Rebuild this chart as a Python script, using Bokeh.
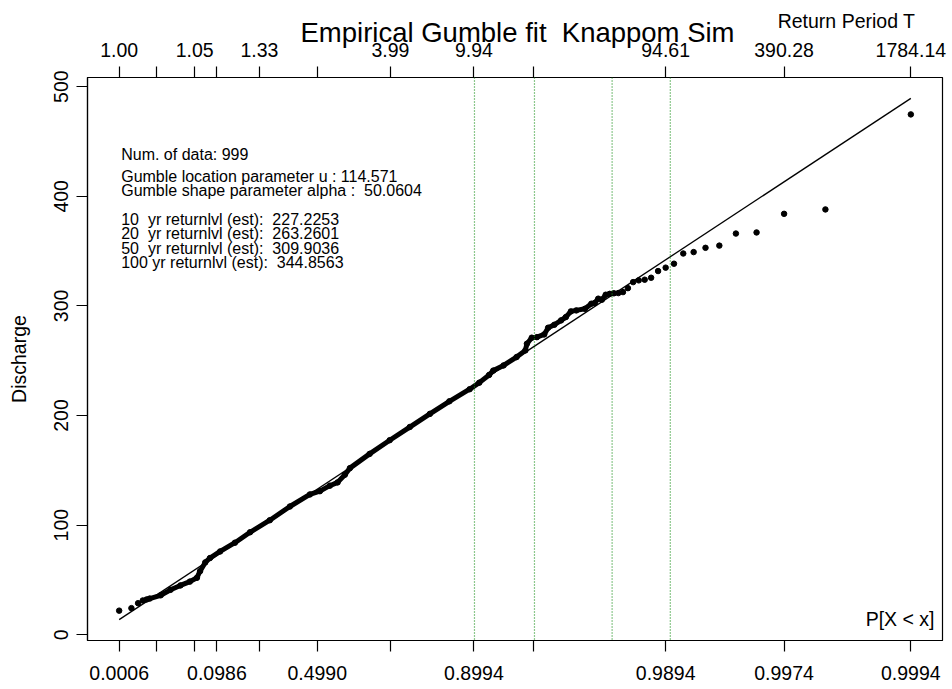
import numpy as np
from bokeh.plotting import figure
from bokeh.layouts import column
from bokeh.models import Range1d, LinearAxis, FixedTicker, CustomJSTickFormatter, Label, Span
from bokeh.embed import file_html
from bokeh.resources import INLINE

# ---------------- data ----------------
N_DATA = 999
U_LOC = 114.571
ALPHA = 50.0604

# ranks of the ordered sample and the discharge
ranks = [1, 2, 3, 4, 5, 6, 11, 18, 28, 41, 53, 59, 70, 81, 108, 155, 211, 293,
         381, 468, 510, 550, 580, 607, 625, 690, 747, 795, 835, 867, 894, 905,
         915, 919, 928, 938, 944, 945, 948, 951, 955, 957, 960, 963, 965, 967,
         969, 972, 974, 975, 976, 977, 978, 979, 980, 981, 982, 983, 984, 985,
         986, 987, 988, 989, 990, 991, 992, 993, 994, 995, 996, 997, 998, 999]
discharge = [22.0, 24.3, 28.8, 31.3, 32.2, 33.0, 36.0, 41.0, 45.0, 48.5, 52.0,
             58.0, 66.0, 70.0, 76.0, 84.0, 93.5, 104.5, 117.0, 128.0, 131.0,
             136.0, 139.0, 146.0, 152.0, 165.0, 177.5, 189.5, 201.5, 213.0,
             224.0, 230.0, 237.0, 241.0, 245.7, 253.3, 259.4, 265.5, 271.0,
             271.5, 274.0, 280.1, 282.8, 286.8, 289.8, 295.0, 295.9, 297.4,
             302.0, 302.6, 306.6, 305.7, 310.2, 311.0, 311.5, 311.7, 312.6,
             316.2, 321.7, 323.3, 323.9, 325.7, 331.8, 334.9, 338.5, 347.8,
             349.1, 353.0, 355.0, 366.0, 367.0, 384.0, 388.0, 474.7]

tick_ranks = [1, 9, 49, 99, 249, 499, 749, 899, 949, 989, 997, 999]
bottom_labels = ["0.0006", "", "", "0.0986", "", "0.4990", "", "0.8994", "",
                 "0.9894", "0.9974", "0.9994"]
top_labels = ["1.00", "", "1.05", "", "1.33", "", "3.99", "9.94", "",
              "94.61", "390.28", "1784.14"]
y_ticks = [0, 100, 200, 300, 400, 500]

return_periods = [10, 20, 50, 100]
return_levels = ["227.2253", "263.2601", "309.9036", "344.8563"]

TITLE = "Empirical Gumble fit \u00a0Knappom Sim"
FONT = "Liberation Sans"
SP2 = " \u00a0"   # a double space that survives svg whitespace collapsing


def reduced_variate(rank):
    pp = (np.asarray(rank, dtype=float) - 0.44) / (N_DATA + 0.12)  # Gringorten
    return -np.log(-np.log(pp))


x_pts = reduced_variate(ranks)
q_pts = np.array(discharge)
x_ticks = [float(v) for v in reduced_variate(tick_ranks)]
x_rp = -np.log(-np.log(1.0 - 1.0 / np.array(return_periods, dtype=float)))

x_fit = np.array([x_pts.min(), x_pts.max()])
q_fit = U_LOC + ALPHA * x_fit

xr = x_fit[1] - x_fit[0]
yr = q_fit[1] - q_fit[0]

# ---------------- title strip (overlaps the transparent top border below) ----
HEAD_H = 50
head = figure(width=950, height=HEAD_H, output_backend="svg", toolbar_location=None,
              x_axis_location=None, y_axis_location=None,
              min_border_left=87, min_border_right=8, min_border_top=0,
              min_border_bottom=0, outline_line_color=None,
              x_range=Range1d(0, 1), y_range=Range1d(0, 1),
              margin=(0, 0, -18, 0))
head.xgrid.visible = False
head.ygrid.visible = False
head.add_layout(Label(x=430, y=HEAD_H - 41 + 9.4, x_units="screen", y_units="screen",
                      text=TITLE, text_font=FONT, text_font_size="27.5px",
                      text_align="center", text_baseline="alphabetic",
                      text_color="black"))
head.add_layout(Label(x=759, y=HEAD_H - 27 + 6.6, x_units="screen", y_units="screen",
                      text="Return Period T", text_font=FONT,
                      text_font_size="19.5px", text_align="center",
                      text_baseline="alphabetic", text_color="black"))

# ---------------- main plot ----------------
p = figure(width=950, height=656, output_backend="svg", toolbar_location=None,
           x_range=Range1d(x_fit[0] - 0.04 * xr, x_fit[1] + 0.04 * xr),
           y_range=Range1d(q_fit[0] - 0.04 * yr, q_fit[1] + 0.04 * yr),
           min_border_left=87, min_border_right=8, min_border_top=45,
           min_border_bottom=48)
p.xgrid.visible = False
p.ygrid.visible = False
p.outline_line_color = "black"
p.outline_line_width = 1.2
p.background_fill_color = "white"
p.border_fill_color = None

fmt_code = """
for (let i = 0; i < tvals.length; i++) {
  if (Math.abs(tick - tvals[i]) < 1e-6) { return tlabels[i]; }
}
return "";
"""


def style_axis(ax):
    ax.major_tick_out = 11
    ax.major_tick_in = 0
    ax.minor_tick_line_color = None
    ax.major_tick_line_width = 1.2
    ax.axis_line_width = 1.2
    ax.axis_line_color = "black"
    ax.major_tick_line_color = "black"
    ax.major_label_text_font = FONT
    ax.major_label_text_font_size = "19.5px"
    ax.major_label_text_color = "black"


bottom = p.xaxis[0]
bottom.ticker = FixedTicker(ticks=x_ticks)
bottom.formatter = CustomJSTickFormatter(
    args=dict(tvals=x_ticks, tlabels=bottom_labels), code=fmt_code)
style_axis(bottom)
bottom.major_label_standoff = 14

top = LinearAxis(ticker=FixedTicker(ticks=x_ticks),
                 formatter=CustomJSTickFormatter(
                     args=dict(tvals=x_ticks, tlabels=top_labels), code=fmt_code))
style_axis(top)
top.major_label_standoff = 10
p.add_layout(top, "above")

left = p.yaxis[0]
left.ticker = FixedTicker(ticks=y_ticks)
style_axis(left)
left.major_label_orientation = "vertical"
left.major_label_standoff = 8
left.axis_label = "Discharge"
left.axis_label_text_font = FONT
left.axis_label_text_font_size = "19.5px"
left.axis_label_text_font_style = "normal"
left.axis_label_text_color = "black"
left.axis_label_standoff = 22

# return period verticals
for xv in x_rp:
    p.add_layout(Span(location=float(xv), dimension="height", line_color="#1a901a",
                      line_dash="1 2", line_width=1.2))

# fitted Gumbel line
p.line(x_fit, q_fit, line_color="black", line_width=1.3)

# empirical points (dense middle drawn as a thick trace of the read points)
dense = (np.array(ranks) >= 5) & (np.array(ranks) <= 980)
p.line(x_pts[dense], q_pts[dense], line_color="black", line_width=5,
       line_join="round", line_cap="round")
p.scatter(x_pts, q_pts, marker="circle", size=5.5, fill_color="black",
          line_color="black")

# annotation block (frame-relative screen units, y up from frame bottom)
lines = [("Num. of data: %d" % N_DATA, 486.1),
         ("Gumble location parameter u : %s" % U_LOC, 463.7),
         ("Gumble shape parameter alpha :%s%s" % (SP2, ALPHA), 450.4)]
ys = [421.4, 407.1, 392.1, 378.1]
for T, lvl, yy in zip(return_periods, return_levels, ys):
    lab = ("%d%syr" % (T, SP2)) if T < 100 else ("%d yr" % T)
    lines.append(("%s returnlvl (est):%s%s" % (lab, SP2, lvl), yy))
for txt, yy in lines:
    p.add_layout(Label(x=33.7, y=yy, x_units="screen", y_units="screen", text=txt,
                       text_font=FONT, text_font_size="16px", text_color="black",
                       text_baseline="alphabetic"))

p.add_layout(Label(x=847, y=21.6, x_units="screen", y_units="screen", text="P[X < x]",
                   text_font=FONT, text_font_size="19.5px", text_align="right",
                   text_baseline="alphabetic", text_color="black"))

layout = column(head, p, spacing=0)
open("out.html", "w").write(file_html(layout, INLINE))
